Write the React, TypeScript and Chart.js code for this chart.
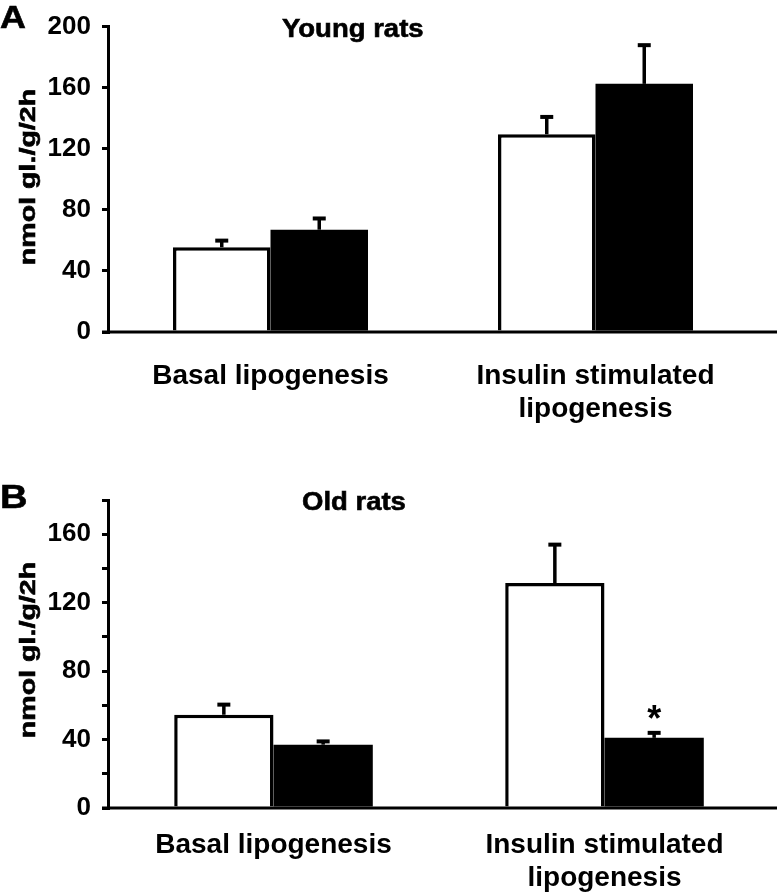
import React, { useEffect, useRef } from 'react';
import { Chart, registerables } from 'chart.js';

Chart.register(...registerables);

// ---- data ----
const categories: string[][] = [['Basal lipogenesis'], ['Insulin stimulated', 'lipogenesis']];
const seriesNames = ['Control', 'Treated'];

const youngControl = [55.5, 129.5];
const youngControlErr = [5, 12];
const youngTreated = [67, 162.5];
const youngTreatedErr = [8, 26];

const oldControl = [54.5, 131.5];
const oldControlErr = [6.5, 23];
const oldTreated = [37, 41];
const oldTreatedErr = [2.5, 3.5];
const oldTreatedMarks = ['', '*'];

const youngMax = 200;
const oldMax = 180;
const minorStep = 20;
const labelStep = 40;

const FONT = "'Liberation Sans', Arial, Helvetica, sans-serif";

type PanelProps = {
  top: number;
  height: number;
  letter: string;
  letterSize: number;
  letterBaseline: number;
  title: string;
  titleX: number;
  titleBaseline: number;
  yTitleCenter: number;
  max: number;
  control: number[];
  controlErr: number[];
  treated: number[];
  treatedErr: number[];
  treatedMarks: string[];
  padTop: number;
  padRight: number;
  xAxisHeight: number;
  labelPadding: number;
};

function drawStretched(ctx: CanvasRenderingContext2D, text: string, x: number, y: number, size: number, sx: number, rot = 0, align: CanvasTextAlign = 'left') {
  ctx.save();
  ctx.translate(x, y);
  if (rot) ctx.rotate(rot);
  ctx.scale(sx, 1);
  ctx.font = `bold ${size}px ${FONT}`;
  ctx.textAlign = align;
  ctx.textBaseline = 'alphabetic';
  ctx.fillStyle = '#000';
  ctx.strokeStyle = '#000';
  ctx.lineWidth = 0.6;
  ctx.fillText(text, 0, 0);
  ctx.strokeText(text, 0, 0);
  ctx.restore();
}

function Panel(p: PanelProps) {
  const ref = useRef<HTMLCanvasElement>(null);
  useEffect(() => {
    const canvas = ref.current!;
    const annot = {
      id: 'annot',
      afterDatasetsDraw(chart: any) {
        const ctx: CanvasRenderingContext2D = chart.ctx;
        const y = chart.scales.y;
        const area = chart.chartArea;
        ctx.save();
        ctx.strokeStyle = '#000';
        ctx.fillStyle = '#000';
        // x axis line
        ctx.lineWidth = 3;
        const y0 = y.getPixelForValue(0);
        ctx.beginPath();
        ctx.moveTo(area.left - 6, y0);
        ctx.lineTo(777, y0);
        ctx.stroke();
        // error bars
        chart.data.datasets.forEach((ds: any, i: number) => {
          const meta = chart.getDatasetMeta(i);
          meta.data.forEach((el: any, j: number) => {
            const v = ds.data[j];
            const e = ds.errors[j];
            const yt = y.getPixelForValue(v + e);
            ctx.lineWidth = 3.5;
            ctx.beginPath();
            ctx.moveTo(el.x, el.y);
            ctx.lineTo(el.x, yt);
            ctx.stroke();
            ctx.lineWidth = 4;
            ctx.beginPath();
            ctx.moveTo(el.x - 6.5, yt + 1);
            ctx.lineTo(el.x + 6.5, yt + 1);
            ctx.stroke();
            const m = ds.marks ? ds.marks[j] : '';
            if (m) {
              ctx.font = `bold 36px ${FONT}`;
              ctx.textAlign = 'center';
              ctx.textBaseline = 'alphabetic';
              ctx.fillText(m, el.x, yt - 1);
            }
          });
        });
        ctx.restore();
      },
      afterDraw(chart: any) {
        const ctx: CanvasRenderingContext2D = chart.ctx;
        drawStretched(ctx, p.letter, 0, p.letterBaseline, p.letterSize, 1.12);
        drawStretched(ctx, p.title, p.titleX, p.titleBaseline, 25, 1.1);
        drawStretched(ctx, 'nmol gl./g/2h', 35, p.yTitleCenter, 22, 1.3, -Math.PI / 2, 'center');
      },
    };

    const chart = new Chart(canvas, {
      type: 'bar',
      data: {
        labels: categories as any,
        datasets: [
          {
            label: seriesNames[0],
            data: p.control,
            errors: p.controlErr,
            backgroundColor: '#ffffff',
            borderColor: '#000000',
            borderWidth: 3.5,
          } as any,
          {
            label: seriesNames[1],
            data: p.treated,
            errors: p.treatedErr,
            marks: p.treatedMarks,
            backgroundColor: '#000000',
            borderColor: '#000000',
            borderWidth: 0,
          } as any,
        ],
      },
      options: {
        animation: false,
        responsive: false,
        maintainAspectRatio: false,
        devicePixelRatio: 1,
        categoryPercentage: 0.6,
        barPercentage: 1,
        layout: { padding: { top: p.padTop, right: p.padRight, left: 0, bottom: 0 } },
        plugins: { legend: { display: false }, tooltip: { enabled: false }, title: { display: false } },
        scales: {
          x: {
            afterFit: (s: any) => {
              s.height = p.xAxisHeight;
            },
            grid: { display: false },
            border: { display: false },
            ticks: {
              color: '#000',
              font: { family: FONT, size: 28, weight: 'bold', lineHeight: 1.18 },
              padding: p.labelPadding,
              maxRotation: 0,
              minRotation: 0,
              autoSkip: false,
            },
          },
          y: {
            min: 0,
            max: p.max,
            afterFit: (s: any) => {
              s.width = 108;
            },
            grid: {
              drawOnChartArea: false,
              drawTicks: true,
              tickLength: 6,
              lineWidth: 3,
              color: '#000',
              tickColor: '#000',
            },
            border: { display: true, color: '#000', width: 3 },
            ticks: {
              stepSize: minorStep,
              color: '#000',
              padding: 11,
              font: { family: FONT, size: 26, weight: 'bold' },
              callback: (v: any) => (Number(v) % labelStep === 0 ? String(v) : ''),
            },
          },
        },
      } as any,
      plugins: [annot],
    });
    return () => chart.destroy();
  }, []);
  return (
    <canvas
      ref={ref}
      width={780}
      height={p.height}
      style={{ position: 'absolute', left: 0, top: p.top, width: 780, height: p.height }}
    />
  );
}

export default function App() {
  return (
    <div style={{ position: 'absolute', left: 0, top: 0, width: 780, height: 894, background: '#fff' }}>
      <Panel
        top={0}
        height={440}
        letter="A"
        letterSize={32}
        letterBaseline={28}
        title="Young rats"
        titleX={282}
        titleBaseline={37}
        yTitleCenter={177}
        max={youngMax}
        control={youngControl}
        controlErr={youngControlErr}
        treated={youngTreated}
        treatedErr={youngTreatedErr}
        treatedMarks={['', '']}
        padTop={25}
        padRight={22}
        xAxisHeight={108}
        labelPadding={20}
      />
      <Panel
        top={440}
        height={454}
        letter="B"
        letterSize={34}
        letterBaseline={68}
        title="Old rats"
        titleX={302}
        titleBaseline={70}
        yTitleCenter={210}
        max={oldMax}
        control={oldControl}
        controlErr={oldControlErr}
        treated={oldTreated}
        treatedErr={oldTreatedErr}
        treatedMarks={oldTreatedMarks}
        padTop={60}
        padRight={10}
        xAxisHeight={86}
        labelPadding={13}
      />
    </div>
  );
}
